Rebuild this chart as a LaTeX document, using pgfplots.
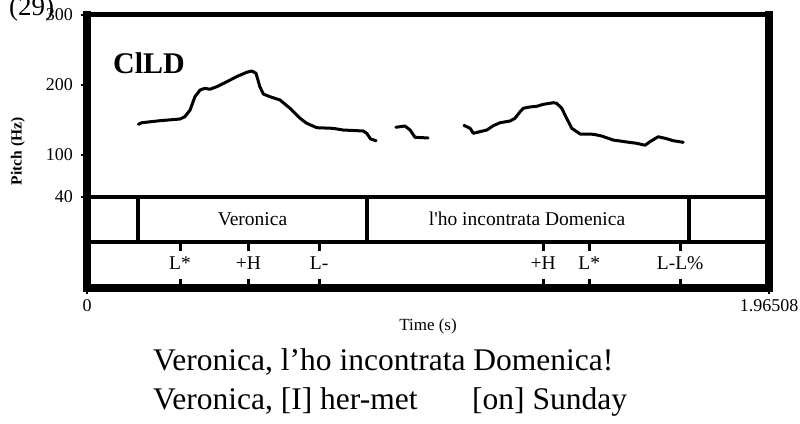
\documentclass[border=0pt]{standalone}
\usepackage{fontspec}
\setmainfont{Liberation Serif}
\usepackage{pgfplots}
\pgfplotsset{compat=1.18}
\begin{document}
\begin{tikzpicture}[x=1bp,y=1bp]
\useasboundingbox (0,0) rectangle (800,423);
\node[anchor=base west, inner sep=0pt, font=\fontsize{27bp}{29bp}\selectfont] at (9,407) {(29)};
\begin{axis}[
  at={(87bp,135bp)}, anchor=south west,
  scale only axis, width=682bp, height=273bp,
  xmin=0, xmax=1.96508, ymin=-90, ymax=300,
  axis line style={draw=none},
  xtick={0,1.96508}, xticklabels={0,1.96508},
  ytick={40,100,200,300},
  tick align=outside, major tick length=6bp,
  tick style={black, line width=1.5bp},
  xtick pos=bottom, ytick pos=left,
  tick label style={font=\fontsize{18bp}{20bp}\selectfont},
  yticklabel style={anchor=east, inner sep=0pt, xshift=-8bp},
  xticklabel style={anchor=north, inner sep=0pt, yshift=-5bp},
  /pgf/number format/assume math mode=true,
  xlabel={Time (s)}, ylabel={\textbf{Pitch (Hz)}},
  xlabel style={at={(axis description cs:0.5,0)}, anchor=center, yshift=-38bp, font=\fontsize{17bp}{19bp}\selectfont},
  ylabel style={at={(axis description cs:-0.1012,0.5)}, anchor=center, font=\fontsize{15.5bp}{17bp}\selectfont},
  clip=false,
]
% pitch contour
\addplot[black, line width=3bp, line join=round, line cap=round] coordinates {
(0.148,143.9) (0.158,146.1) (0.210,149.0) (0.268,151.4) (0.282,154.7) (0.297,164.3)
(0.311,183.3) (0.326,192.9) (0.340,195.3) (0.354,193.9) (0.374,197.6) (0.403,204.7)
(0.431,211.9) (0.460,218.1) (0.475,220.0) (0.487,216.7) (0.498,197.6) (0.508,187.1)
(0.527,183.3) (0.556,178.6) (0.585,166.7) (0.614,152.4) (0.633,145.3) (0.662,139.0)
(0.709,138.1) (0.738,135.7) (0.796,134.3) (0.806,131.0) (0.817,122.9) (0.833,120.4)
};
\addplot[black, line width=3bp, line join=round, line cap=round] coordinates {
(0.890,139.6) (0.916,141.4) (0.931,135.7) (0.945,125.3) (0.983,124.3)
};
\addplot[black, line width=3bp, line join=round, line cap=round] coordinates {
(1.086,142.4) (1.104,138.1) (1.113,131.0) (1.132,133.3) (1.152,135.7) (1.171,141.9)
(1.190,146.1) (1.219,148.6) (1.233,152.4) (1.248,161.9) (1.257,166.7) (1.276,168.6)
(1.296,169.6) (1.315,172.4) (1.344,174.7) (1.353,173.9) (1.368,166.7) (1.382,152.4)
(1.397,138.1) (1.421,130.0) (1.459,129.6) (1.483,127.1) (1.516,121.4) (1.555,118.6)
(1.584,116.7) (1.608,113.9) (1.622,119.0) (1.646,126.1) (1.670,123.3) (1.689,120.4)
(1.718,118.1)
};
% tier lines
\addplot[black, line width=3.5bp] coordinates {(0,40) (1.96508,40)};
\addplot[black, line width=3.5bp] coordinates {(0,-24.3) (1.96508,-24.3)};
\addplot[black, line width=3.5bp, unbounded coords=jump] coordinates {
(0.147,40) (0.147,-24.3) (0.147,nan)
(0.807,40) (0.807,-24.3) (0.807,nan)
(1.735,40) (1.735,-24.3)
};
% tone ticks
\addplot[black, line width=3bp, unbounded coords=jump] coordinates {
(0.268,-24.3) (0.268,-37) (0.268,nan) (0.268,-77) (0.268,-90) (0.268,nan)
(0.465,-24.3) (0.465,-37) (0.465,nan) (0.465,-77) (0.465,-90) (0.465,nan)
(0.669,-24.3) (0.669,-37) (0.669,nan) (0.669,-77) (0.669,-90) (0.669,nan)
(1.314,-24.3) (1.314,-37) (1.314,nan) (1.314,-77) (1.314,-90) (1.314,nan)
(1.447,-24.3) (1.447,-37) (1.447,nan) (1.447,-77) (1.447,-90) (1.447,nan)
(1.709,-24.3) (1.709,-37) (1.709,nan) (1.709,-77) (1.709,-90)
};
\begin{scope}[every node/.style={font=\fontsize{19.5bp}{21bp}\selectfont, inner sep=0pt}]
\node at (axis cs:0.477,8.6) {Veronica};
\node at (axis cs:1.268,8.6) {l\textquotesingle ho incontrata Domenica};
\node at (axis cs:0.268,-54.3) {L*};
\node at (axis cs:0.465,-54.3) {+H};
\node at (axis cs:0.669,-54.3) {L-};
\node at (axis cs:1.314,-54.3) {+H};
\node at (axis cs:1.447,-54.3) {L*};
\node at (axis cs:1.709,-54.3) {L-L\%};
\end{scope}
\node[anchor=base west, inner sep=0pt, font=\bfseries\fontsize{30bp}{32bp}\selectfont] at (rel axis cs:0.038,0.7875) {ClLD};
% frame
\draw[line width=8bp, line cap=rect] (rel axis cs:0,0) -- (rel axis cs:0,1);
\draw[line width=8bp, line cap=rect] (rel axis cs:1,0) -- (rel axis cs:1,1);
\draw[line width=5bp, line cap=rect] (rel axis cs:0,1) -- (rel axis cs:1,1);
\draw[line width=8bp, line cap=rect] (rel axis cs:0,0) -- (rel axis cs:1,0);
\end{axis}
\node[anchor=base west, inner sep=0pt, font=\fontsize{31.5bp}{34bp}\selectfont] at (153,53) {Veronica, l’ho incontrata Domenica!};
\node[anchor=base west, inner sep=0pt, font=\fontsize{31.5bp}{34bp}\selectfont] at (153,14) {Veronica, [I] her-met};
\node[anchor=base west, inner sep=0pt, font=\fontsize{31.5bp}{34bp}\selectfont] at (472,14) {[on] Sunday};
\end{tikzpicture}
\end{document}
